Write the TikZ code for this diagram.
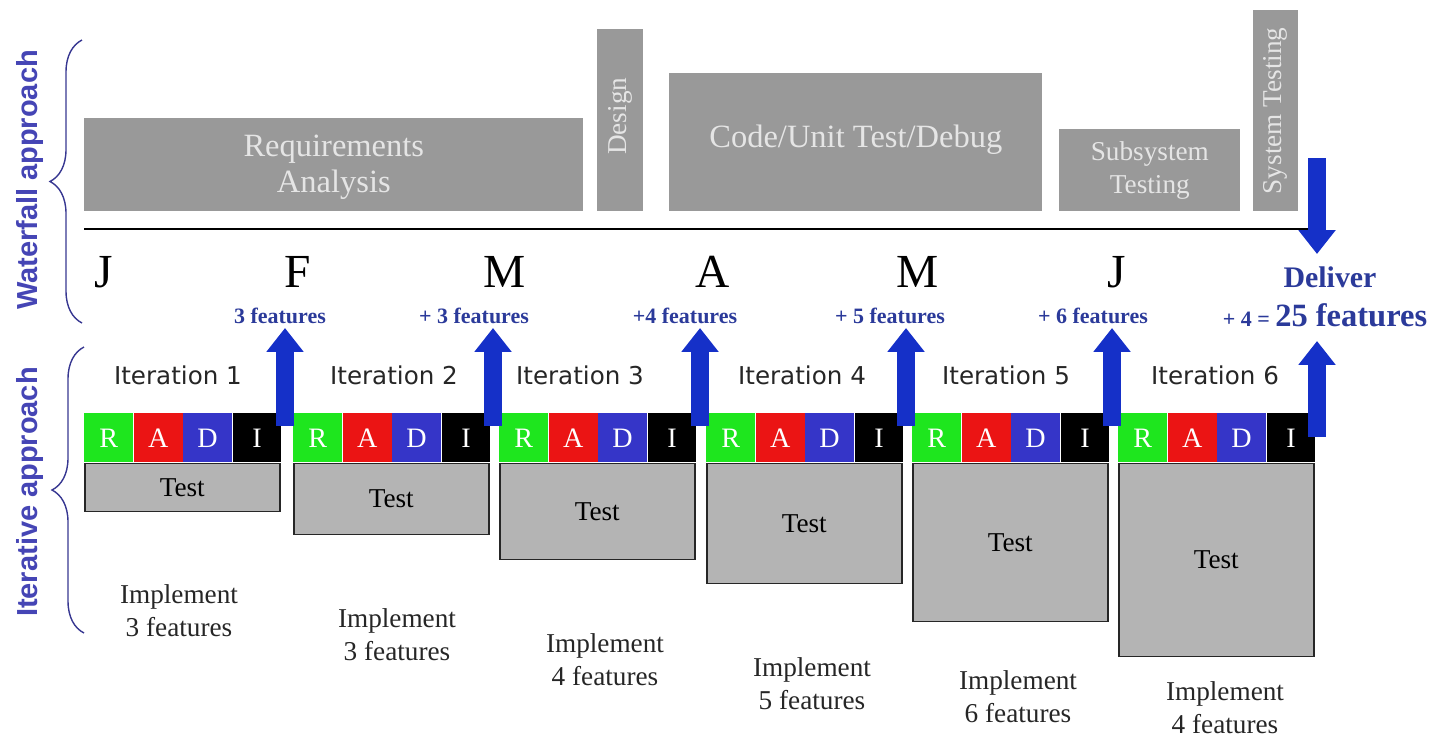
\documentclass[tikz,border=0pt]{standalone}
\usepackage{fontspec}
\setmainfont{Liberation Serif}
\newfontfamily\iterfont{DejaVu Sans}
\newfontfamily\sidefont{Liberation Sans}
\usetikzlibrary{arrows.meta,decorations.pathreplacing,positioning}

\definecolor{phasegray}{HTML}{999999}
\definecolor{testgray}{HTML}{B4B4B4}
\definecolor{rgreen}{HTML}{1EE61E}
\definecolor{ared}{HTML}{EB1414}
\definecolor{dblue}{HTML}{3535C8}
\definecolor{arrowblue}{HTML}{1530C8}
\definecolor{labelblue}{HTML}{2B3A9A}
\definecolor{sideblue}{HTML}{4545B5}

\begin{document}
\begin{tikzpicture}[x=0.02cm, y=-0.02cm,
  phase/.style={fill=phasegray, inner sep=0pt, anchor=north west},
  phasetext/.style={text=white!90!black, align=center, font=\fontsize{18.5}{20.5}\selectfont},
  smallphase/.style={text=white!90!black, align=center, font=\fontsize{15.5}{18.5}\selectfont},
  month/.style={font=\fontsize{27}{30}\selectfont},
  feat/.style={text=labelblue, font=\bfseries\fontsize{12.5}{14}\selectfont},
  cell/.style={inner sep=0pt, minimum width=0.975cm, minimum height=0.98cm, text=white,
    font=\fontsize{16}{18}\selectfont},
  testbox/.style={fill=testgray, draw=black!85, line width=0.9pt, inner sep=0pt,
    anchor=north west, minimum width=3.9cm, font=\fontsize{15.5}{18}\selectfont},
  iterlbl/.style={font=\iterfont\fontsize{14}{16}\selectfont, text=black!85},
  impl/.style={align=center, text=black!85, font=\fontsize{15.5}{18.7}\selectfont},
  sidelbl/.style={rotate=90, text=sideblue, font=\sidefont\bfseries\fontsize{16.5}{18}\selectfont},
  brace/.style={draw=sideblue!80!black, line width=0.8pt,
    decorate, decoration={brace, amplitude=0.64cm}},
  bigarrow/.style={arrowblue, line width=9.8pt, -{Triangle[width=20.4pt,length=13.6pt]}}
]
  \useasboundingbox (0,0) rectangle (1439,738);

  % Side labels and braces
  \node[sidelbl] (wf) at (30,180) {Waterfall approach};
  \node[sidelbl] (itap) at (30,492) {Iterative approach};
  \coordinate (wfb1) at (82,323);
  \coordinate (wfb2) at (82,40);
  \coordinate (itb1) at (84,633);
  \coordinate (itb2) at (84,347);
  \draw[brace] (wfb1) -- (wfb2);
  \draw[brace] (itb1) -- (itb2);

  % Waterfall phases
  \node[phase, minimum width=9.98cm, minimum height=1.86cm] (req) at (84,118) {};
  \node[phasetext] (reqlbl) at ([yshift=-0.04cm]req.center) {Requirements\\Analysis};
  \node[phase, minimum width=0.92cm, minimum height=3.64cm] (design) at (597,29) {};
  \node[smallphase, rotate=90] (designlbl) at ([yshift=0.08cm]design.center) {Design};
  \node[phase, minimum width=7.46cm, minimum height=2.76cm] (code) at (669,73) {};
  \node[phasetext] (codelbl) at ([yshift=0.06cm]code.center) {Code/Unit Test/Debug};
  \node[phase, minimum width=3.62cm, minimum height=1.64cm] (subsys) at (1059,129) {};
  \node[smallphase] (subsyslbl) at (subsys.center) {Subsystem\\Testing};
  \node[phase, minimum width=0.9cm, minimum height=4.02cm] (systest) at (1253,10) {};
  \node[smallphase, rotate=90] (systestlbl) at (systest.center) {System Testing};

  % Time line
  \coordinate (tl0) at (84,229);
  \coordinate (tl1) at (1317,229);
  \draw[line width=1.2pt] (tl0) -- (tl1);

  % Months
  \foreach \i/\x/\m in {1/104/J, 2/298/F, 3/505/M, 4/713/A, 5/918/M, 6/1117/J} {
    \node[month] (mon\i) at (\x,272) {\m};
  }

  % Delivery
  \coordinate (dtop) at (1317,158);
  \coordinate (dtip) at (1317,254);
  \draw[bigarrow] (dtop) -- (dtip);
  \node[text=labelblue, font=\bfseries\fontsize{17}{20}\selectfont] (deliver) at (1330,277) {Deliver};

  % Feature counts
  \foreach \i/\x/\t in {1/280/3 features, 2/474/+ 3 features, 3/685/+4 features,
                        4/890/+ 5 features, 5/1093/+ 6 features} {
    \node[feat] (f\i) at (\x,316) {\t};
  }
  \node[feat] (f6) at (1325,315) {+ 4 = {\fontsize{18.5}{20}\selectfont 25 features}};

  % Iterations
  \foreach \i/\x/\b/\tx/\lx/\ly/\n in {1/84/510/178/179/611/3, 2/293/533/394/397/635/3,
      3/499/558/580/605/660/4, 4/706/582/802/812/684/5, 5/912/620/1006/1018/697/6,
      6/1118/655/1215/1225/708/4} {
    \node[iterlbl] (it\i) at (\tx,375) {Iteration \i};
    \node[cell, fill=rgreen, anchor=north west] (r\i) at (\x,413) {R};
    \node[cell, fill=ared, right=0pt of r\i] (a\i) {A};
    \node[cell, fill=dblue, right=0pt of a\i] (d\i) {D};
    \node[cell, fill=black, right=0pt of d\i] (i\i) {I};
    \node[testbox, minimum height={(\b-462)*0.02cm}] (test\i) at (r\i.south west) {Test};
    \node[impl] (impl\i) at (\lx,\ly) {Implement\\\n\ features};
  }

  % Release arrows
  \foreach \i/\x/\yb/\yt in {1/285/426/328, 2/493/426/328, 3/700/426/328,
                             4/906/426/328, 5/1112/426/328, 6/1317/437/341} {
    \coordinate (ub\i) at (\x,\yb);
    \coordinate (ut\i) at (\x,\yt);
    \draw[bigarrow] (ub\i) -- (ut\i);
  }

\end{tikzpicture}
\end{document}
